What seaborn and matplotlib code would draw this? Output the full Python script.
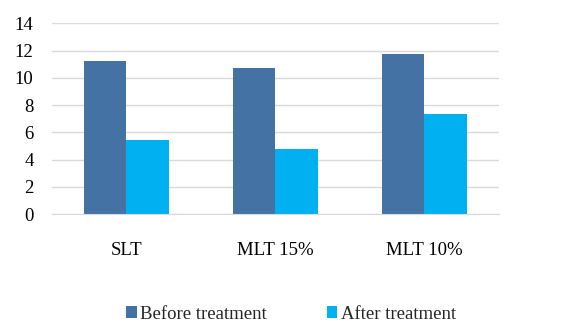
import numpy as np
import pandas as pd
import matplotlib.pyplot as plt
import seaborn as sns

# Chart values
groups = ['SLT', 'MLT 15%', 'MLT 10%']
before = [11.23, 10.72, 11.75]
after = [5.43, 4.77, 7.34]
series = ['Before treatment', 'After treatment']

df = pd.DataFrame({
    'Group': groups * 2,
    'Value': before + after,
    'Series': [series[0]] * 3 + [series[1]] * 3,
})

sns.set_style('white')
plt.rcParams['font.family'] = ['Liberation Serif', 'DejaVu Serif']

fig = plt.figure(figsize=(5.71, 3.32), dpi=100)
ax = fig.add_axes([0.0905, 0.355, 0.7835, 0.575])

sns.barplot(data=df, x='Group', y='Value', hue='Series',
            palette=['#4472A4', '#00B0F0'], width=0.57, gap=0,
            saturation=1, linewidth=0, ax=ax, legend=True)

ax.set_ylim(0, 14)
ax.set_yticks(np.arange(0, 15, 2))
ax.set_xlim(-0.5, 2.5)
ax.grid(axis='y', color='#D9D9D9', linewidth=1)
ax.set_axisbelow(True)
for s in ['top', 'right', 'left']:
    ax.spines[s].set_visible(False)
ax.spines['bottom'].set_color('#D9D9D9')
ax.tick_params(axis='both', length=0, labelsize=13.5, colors='black')
ax.tick_params(axis='x', pad=20)
ax.tick_params(axis='y', pad=13)
ax.set_xlabel('')
ax.set_ylabel('')

handles, labels = ax.get_legend_handles_labels()
ax.legend_.remove()
fig.legend(handles, labels, loc='center', bbox_to_anchor=(0.51, 0.054),
           ncol=2, frameon=False, fontsize=13.5, handlelength=0.55,
           handleheight=0.55, handletextpad=0.2, columnspacing=3.2)

fig.savefig('out.png', dpi=100)
